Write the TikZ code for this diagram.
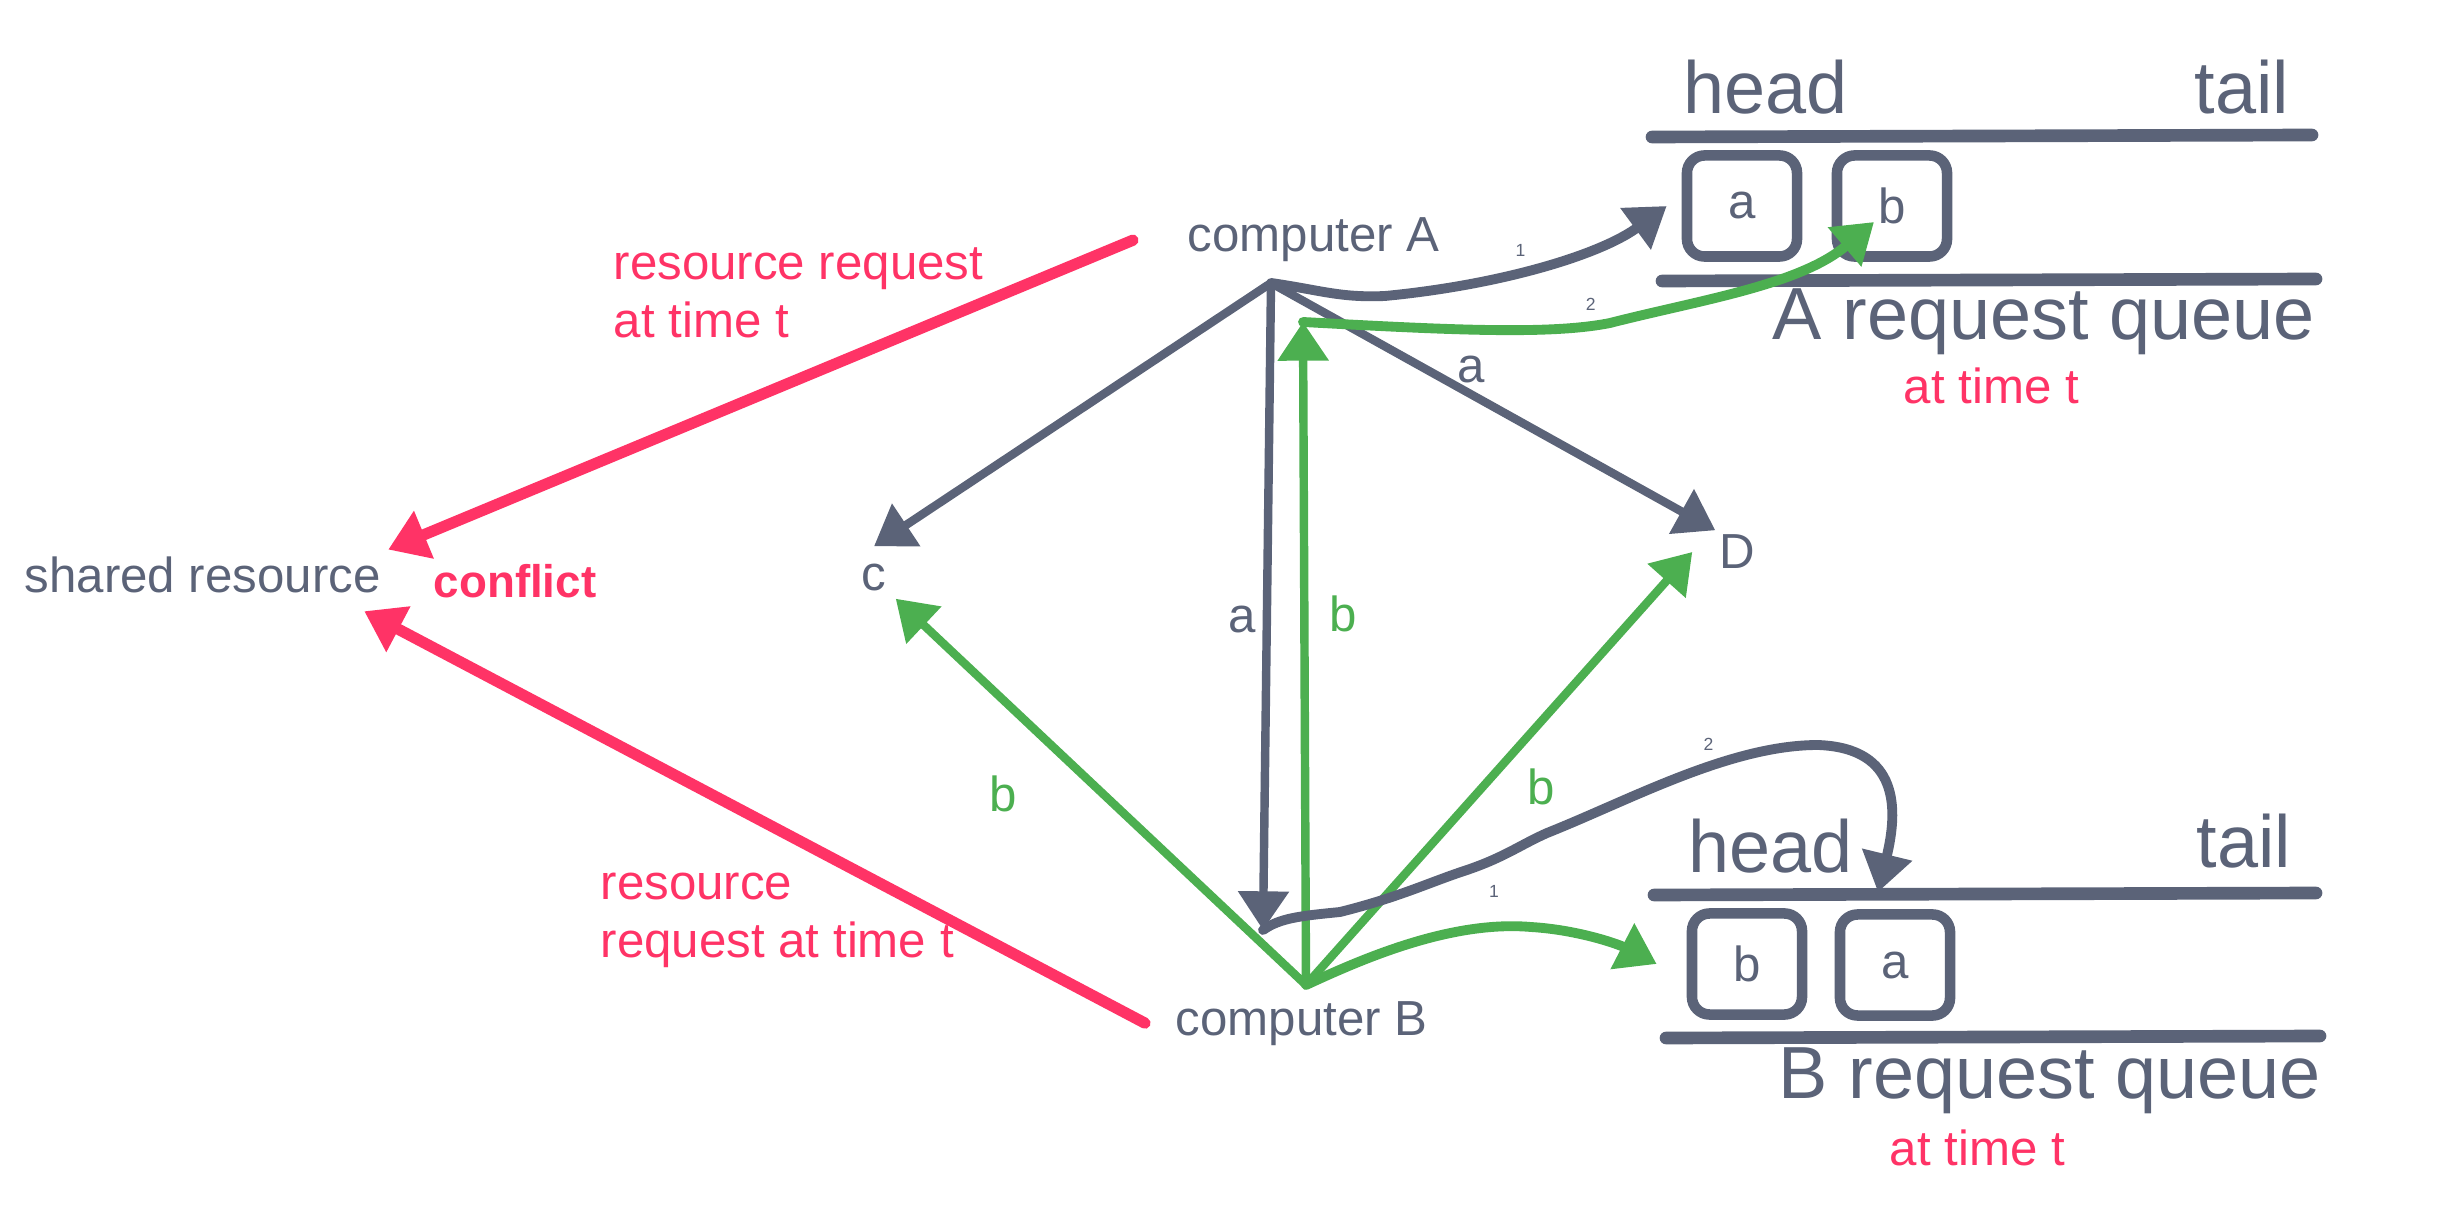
\documentclass[tikz,border=0pt]{standalone}
\usepackage{fontspec}
\setmainfont{Liberation Sans}
\usetikzlibrary{arrows.meta,positioning}
\definecolor{schiefer}{HTML}{5B6378}
\definecolor{rot}{HTML}{FF3366}
\definecolor{gruen}{HTML}{4CAF50}

\begin{document}
\begin{tikzpicture}[x={(0.01cm,0)},y={(0,-0.01cm)},>={Triangle[length=11pt,width=14pt]},
  txt/.style={font=\fontsize{14}{16.5}\selectfont,inner sep=2pt},
  gross/.style={font=\fontsize{21}{25}\selectfont,inner sep=0pt,text=schiefer},
  klein/.style={font=\fontsize{5}{6}\selectfont,inner sep=1pt,text=schiefer},
  pfeil/.style={->,line width=2.4pt,line join=round,line cap=round},
  bogen/.style={pfeil,line width=2.8pt},
  rotpfeil/.style={pfeil,rot,line width=3.2pt},
  ziel/.style={txt,text=schiefer,circle,inner sep=0pt,minimum size=0.6cm},
  kiste/.style={draw=schiefer,line width=3pt,rounded corners=5pt,minimum width=1.1cm,minimum height=1.01cm,txt,text=schiefer},
  strich/.style={schiefer,line width=3.6pt,line cap=round}]
  \useasboundingbox (0,0) rectangle (2451,1216);
  % Rechner und Ziele
  \coordinate (apexA) at (1271,283);
  \coordinate (apexB) at (1306,985);
  \coordinate (tipAB) at (1263,930);
  \coordinate (tipBA) at (1303,322);
  \node[txt,text=schiefer,anchor=base west,inner xsep=0.54cm] (compA) at (1133,252) {computer A};
  \node[txt,text=schiefer,anchor=base west,inner xsep=0.3cm] (compB) at (1145,1035) {computer B};
  \node[txt,text=schiefer,anchor=base west] (shared) at (17,593) {shared resource};
  \node[txt,text=rot,anchor=base west,font=\fontsize{13}{15}\selectfont\bfseries] (conflict) at (426,598) {conflict};
  \node[ziel] (nodeC) at (874,577) {c};
  \node[ziel] (nodeD) at (1737,552) {D};
  \node[txt,text=rot,align=left,anchor=base west] (reqA) at (606,338) {resource request\\at time t};
  \node[txt,text=rot,align=left,anchor=base west] (reqB) at (593,958) {resource\\request at time t};
  % Warteschlange A
  \draw[strich] (1652,137) -- (2312,135);
  \draw[strich] (1662,281) -- (2316,279);
  \node[gross,anchor=base west] (headA) at (1683,114) {head};
  \node[gross,anchor=base east] (tailA) at (2290,114) {tail};
  \node[kiste] (qa1) at (1742,206) {a};
  \node[kiste] (qa2) at (1892,206) {b};
  \node[gross,anchor=base west] (queueA) at (1772,340) {A request queue};
  \node[txt,text=rot,anchor=base west] (timeA) at (1896,404) {at time t};
  % Warteschlange B
  \draw[strich] (1654,895) -- (2316,893);
  \draw[strich] (1666,1038) -- (2320,1036);
  \node[gross,anchor=base west] (headB) at (1688,873) {head};
  \node[gross,anchor=base east] (tailB) at (2292,868) {tail};
  \node[kiste] (qb1) at (1747,964) {b};
  \node[kiste] (qb2) at (1895,965) {a};
  \node[gross,anchor=base west] (queueB) at (1778,1098) {B request queue};
  \node[txt,text=rot,anchor=base west] (timeB) at (1882,1165) {at time t};
  % Anfragen an die Ressource
  \draw[rotpfeil] (compA.west) -- (shared.north east);
  \draw[rotpfeil] (compB.west) -- ([xshift=-0.24cm,yshift=-0.1cm]shared.south east);
  % Nachrichten von A
  \draw[pfeil,schiefer] (apexA) -- (nodeC.north);
  \draw[pfeil,schiefer] (apexA) -- node[txt,text=schiefer,pos=.45,above]{a} (nodeD.north west);
  \draw[pfeil,schiefer] (apexA) -- node[txt,text=schiefer,pos=.52,left]{a} (tipAB);
  % Nachrichten von B
  \draw[pfeil,gruen] (apexB) -- node[txt,text=gruen,pos=.625,below left=6pt and 6pt]{b} (nodeC.south east);
  \draw[pfeil,gruen] (apexB) -- node[txt,text=gruen,pos=.526,below right=0pt and 2pt]{b} ([xshift=-0.14cm]nodeD.west);
  \draw[pfeil,gruen] (apexB) -- node[txt,text=gruen,pos=.56,right=4pt]{b} (tipBA);
  % Einreihen in die Warteschlangen
  \draw[bogen,schiefer] (apexA) .. controls (1320,290) and (1340,298) .. (1385,296)
    .. controls (1500,285) and (1600,255) .. ([xshift=-0.15cm]qa1.west) node[klein,pos=.42,above=2pt]{1};
  \draw[bogen,gruen] (tipBA) .. controls (1450,330) and (1550,335) .. (1610,323) node[klein,pos=.9,above=2pt]{2}
    .. controls (1700,300) and (1800,285) .. ([xshift=-0.18cm,yshift=-0.16cm]qa2.center);
  \draw[bogen,gruen] (apexB) .. controls (1360,960) and (1450,920) .. (1531,927) node[klein,pos=.85,above=6pt]{1}
    .. controls (1580,930) and (1620,945) .. ([xshift=-0.3cm]qb1.west);
  \draw[bogen,schiefer] (tipAB) .. controls (1280,918) and (1300,916) .. (1340,912)
    .. controls (1400,897) and (1430,882) .. (1467,870) .. controls (1505,857) and (1520,845) .. (1547,833)
    .. controls (1630,800) and (1730,745) .. (1818,745) node[klein,pos=.6,above=2pt]{2}
    .. controls (1900,748) and (1898,810) .. ([xshift=-0.17cm,yshift=0.17cm]qb2.north);
\end{tikzpicture}
\end{document}
